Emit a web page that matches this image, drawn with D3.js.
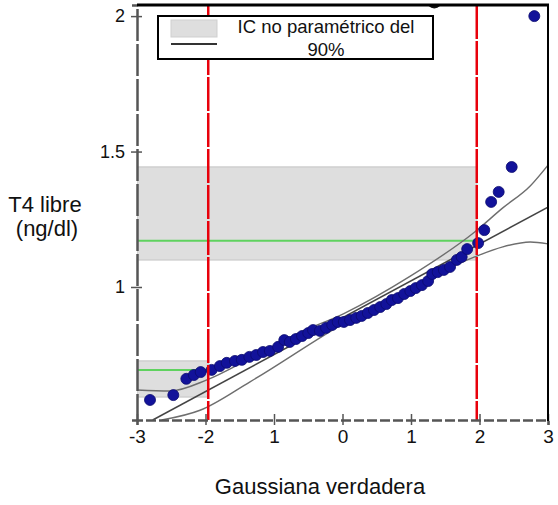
<!DOCTYPE html>
<html lang="es">
<head>
    <meta charset="UTF-8">
    <title>Gráfico Q-Q T4 libre</title>
    <script src="https://d3js.org/d3.v7.min.js"></script>
    <style>
        body, html {
            margin: 0;
            padding: 0;
            overflow: hidden;
            background: #fff;
        }
        svg {
            display: block;
            font-family: "Liberation Sans", Arial, sans-serif;
        }
        .tick text {
            font-family: "Liberation Sans", Arial, sans-serif;
            fill: #111;
        }
    </style>
</head>
<body>
    <svg width="558" height="505" id="chart"></svg>

    <script>
        // cuantiles teóricos (eje x) y valores observados de T4 libre (eje y)
        const theoQ = [-2.81, -2.47, -2.28, -2.17, -2.07, -1.91, -1.79, -1.69, -1.57, -1.47,
                       -1.36, -1.26, -1.16, -1.06, -0.94, -0.85, -0.77, -0.68, -0.59, -0.50,
                       -0.43, -0.33, -0.24, -0.15, -0.07, 0.02, 0.11, 0.20, 0.28, 0.37,
                       0.46, 0.55, 0.64, 0.72, 0.81, 0.90, 0.99, 1.07, 1.16, 1.25,
                       1.31, 1.39, 1.48, 1.57, 1.67, 1.74, 1.82, 1.98, 2.07, 2.17,
                       2.28, 2.47, 2.80];
        const obsT4 = [0.583, 0.601, 0.661, 0.675, 0.686, 0.694, 0.708, 0.720, 0.727, 0.731,
                       0.742, 0.749, 0.760, 0.764, 0.779, 0.804, 0.797, 0.808, 0.819, 0.830,
                       0.841, 0.838, 0.849, 0.860, 0.871, 0.871, 0.878, 0.886, 0.893, 0.904,
                       0.915, 0.926, 0.937, 0.952, 0.959, 0.974, 0.985, 0.996, 1.007, 1.022,
                       1.048, 1.055, 1.063, 1.074, 1.100, 1.111, 1.140, 1.162, 1.210, 1.314,
                       1.351, 1.443, 2.000];

        // recta de referencia y bandas de confianza
        const refLineX = [-2.77, 3.0];
        const refLineY = [0.509, 1.295];
        const upperBandX = [-3.0, -2.52, -1.98, -1.35, -0.62, 0.02, 0.99, 1.93, 2.34, 2.74, 3.0];
        const upperBandY = [0.620, 0.616, 0.657, 0.736, 0.832, 0.902, 1.040, 1.203, 1.292, 1.373, 1.450];
        const lowerBandX = [-2.64, -2.08, -1.35, 0.02, 0.99, 1.93, 2.34, 2.74, 3.0];
        const lowerBandY = [0.509, 0.545, 0.650, 0.866, 0.998, 1.111, 1.148, 1.166, 1.159];

        // intervalos no paramétricos del 90% (límite superior e inferior)
        const ciRegions = [
            { x0: -3, x1: 1.96, lo: 1.100, hi: 1.443, mid: 1.171 },
            { x0: -3, x1: -1.96, lo: 0.594, hi: 0.727, mid: 0.694 }
        ];
        const cutoffs = [-1.96, 1.96];

        // marcas recortadas en el borde superior
        const clippedX = [1.34];
        const clippedY = [2.058];

        const xTicks = [-3, -2, -1, 0, 1, 2, 3];
        const xTickLabels = ["-3", "-2", "1", "0", "1", "2", "3"];
        const yTicks = [1, 1.5, 2];
        const yTickLabels = ["1", "1.5", "2"];

        const svg = d3.select("#chart");

        const pLeft = 137, pRight = 548, pTop = 5, pBottom = 420;

        const x = d3.scaleLinear().domain([-3, 3]).range([pLeft, pRight]);
        const y = d3.scaleLinear().domain([0.509, 2.041]).range([pBottom, pTop]);

        svg.append("defs").append("clipPath")
            .attr("id", "plotClip")
            .append("rect")
            .attr("x", pLeft).attr("y", pTop)
            .attr("width", pRight - pLeft).attr("height", pBottom - pTop);

        const plot = svg.append("g").attr("clip-path", "url(#plotClip)");

        // bandas grises
        plot.selectAll(".band")
            .data(ciRegions)
            .enter()
            .append("rect")
            .attr("class", "band")
            .attr("x", d => x(d.x0))
            .attr("y", d => y(d.hi))
            .attr("width", d => x(d.x1) - x(d.x0))
            .attr("height", d => y(d.lo) - y(d.hi))
            .attr("fill", "#dedede")
            .attr("stroke", "#cfcfcf")
            .attr("stroke-width", 1.5);

        plot.selectAll(".mid")
            .data(ciRegions)
            .enter()
            .append("line")
            .attr("x1", d => x(d.x0))
            .attr("x2", d => x(d.x1))
            .attr("y1", d => y(d.mid))
            .attr("y2", d => y(d.mid))
            .attr("stroke", "#5fd25f")
            .attr("stroke-width", 2);

        // recta y bandas
        const line = d3.line()
            .x(d => x(d[0]))
            .y(d => y(d[1]))
            .curve(d3.curveMonotoneX);

        plot.append("path")
            .datum(d3.zip(upperBandX, upperBandY))
            .attr("d", line)
            .attr("fill", "none")
            .attr("stroke", "#6e6e6e")
            .attr("stroke-width", 1.4);

        plot.append("path")
            .datum(d3.zip(lowerBandX, lowerBandY))
            .attr("d", line)
            .attr("fill", "none")
            .attr("stroke", "#6e6e6e")
            .attr("stroke-width", 1.4);

        plot.append("path")
            .datum(d3.zip(refLineX, refLineY))
            .attr("d", d3.line().x(d => x(d[0])).y(d => y(d[1])))
            .attr("fill", "none")
            .attr("stroke", "#444")
            .attr("stroke-width", 1.6);

        // puntos
        plot.selectAll(".pt")
            .data(d3.zip(theoQ, obsT4))
            .enter()
            .append("circle")
            .attr("class", "pt")
            .attr("cx", d => x(d[0]))
            .attr("cy", d => y(d[1]))
            .attr("r", 5.5)
            .attr("fill", "#12129a")
            .attr("stroke", "#0b0b6e")
            .attr("stroke-width", 0.8);

        plot.selectAll(".clipped")
            .data(d3.zip(clippedX, clippedY))
            .enter()
            .append("circle")
            .attr("cx", d => x(d[0]))
            .attr("cy", d => y(d[1]))
            .attr("r", 8)
            .attr("fill", "#111");

        // líneas de corte rojas
        svg.selectAll(".cut")
            .data(cutoffs)
            .enter()
            .append("line")
            .attr("x1", d => x(d))
            .attr("x2", d => x(d))
            .attr("y1", pTop)
            .attr("y2", pBottom)
            .attr("stroke", "#e8000b")
            .attr("stroke-width", 2.5)
            .attr("stroke-dasharray", "34,2");

        // ejes
        const yAxis = svg.append("g")
            .attr("transform", `translate(${pLeft},0)`)
            .call(d3.axisLeft(y).tickValues(yTicks).tickSize(5).tickPadding(6)
                .tickFormat((d, i) => yTickLabels[i]));
        yAxis.selectAll(".tick line").attr("x1", -6).attr("x2", 5).attr("stroke", "#555").attr("stroke-width", 1.5);
        yAxis.selectAll(".tick text").attr("font-size", 18).attr("x", -12);
        yAxis.select(".domain")
            .attr("stroke", "#555").attr("stroke-width", 2.5)
            .attr("stroke-dasharray", "32,3");

        const xAxis = svg.append("g")
            .attr("transform", `translate(0,${pBottom})`)
            .call(d3.axisBottom(x).tickValues(xTicks).tickSize(5).tickPadding(6)
                .tickFormat((d, i) => xTickLabels[i]));
        xAxis.selectAll(".tick line").attr("y1", -6).attr("y2", 5).attr("stroke", "#555").attr("stroke-width", 1.5);
        xAxis.selectAll(".tick text").attr("font-size", 19).attr("y", 10);
        xAxis.select(".domain")
            .attr("stroke", "#555").attr("stroke-width", 2.5)
            .attr("stroke-dasharray", "10,3");

        // bordes superior y derecho
        svg.append("line")
            .attr("x1", pLeft).attr("x2", pRight + 1)
            .attr("y1", pTop).attr("y2", pTop)
            .attr("stroke", "#000").attr("stroke-width", 3);
        svg.append("line")
            .attr("x1", pRight).attr("x2", pRight)
            .attr("y1", pTop).attr("y2", pBottom + 1)
            .attr("stroke", "#000").attr("stroke-width", 2);

        // leyenda
        const legend = svg.append("g");
        legend.append("rect")
            .attr("x", 158).attr("y", 16)
            .attr("width", 275).attr("height", 43)
            .attr("fill", "#fff")
            .attr("stroke", "#000")
            .attr("stroke-width", 2);
        legend.append("rect")
            .attr("x", 171).attr("y", 20)
            .attr("width", 46).attr("height", 17)
            .attr("fill", "#dedede")
            .attr("stroke", "#cfcfcf");
        legend.append("line")
            .attr("x1", 171).attr("x2", 217)
            .attr("y1", 44).attr("y2", 44)
            .attr("stroke", "#333").attr("stroke-width", 2);
        legend.append("text")
            .attr("x", 326).attr("y", 33)
            .attr("text-anchor", "middle")
            .attr("font-size", 18.5)
            .attr("fill", "#111")
            .text("IC no paramétrico del");
        legend.append("text")
            .attr("x", 326).attr("y", 56)
            .attr("text-anchor", "middle")
            .attr("font-size", 18.5)
            .attr("fill", "#111")
            .text("90%");

        // títulos de ejes
        svg.append("text")
            .attr("x", 45).attr("y", 212)
            .attr("text-anchor", "middle")
            .attr("font-size", 22)
            .attr("fill", "#111")
            .text("T4 libre");
        svg.append("text")
            .attr("x", 47).attr("y", 236)
            .attr("text-anchor", "middle")
            .attr("font-size", 22)
            .attr("fill", "#111")
            .text("(ng/dl)");
        svg.append("text")
            .attr("x", 320).attr("y", 494)
            .attr("text-anchor", "middle")
            .attr("font-size", 22)
            .attr("fill", "#111")
            .text("Gaussiana verdadera");
    </script>
</body>
</html>
